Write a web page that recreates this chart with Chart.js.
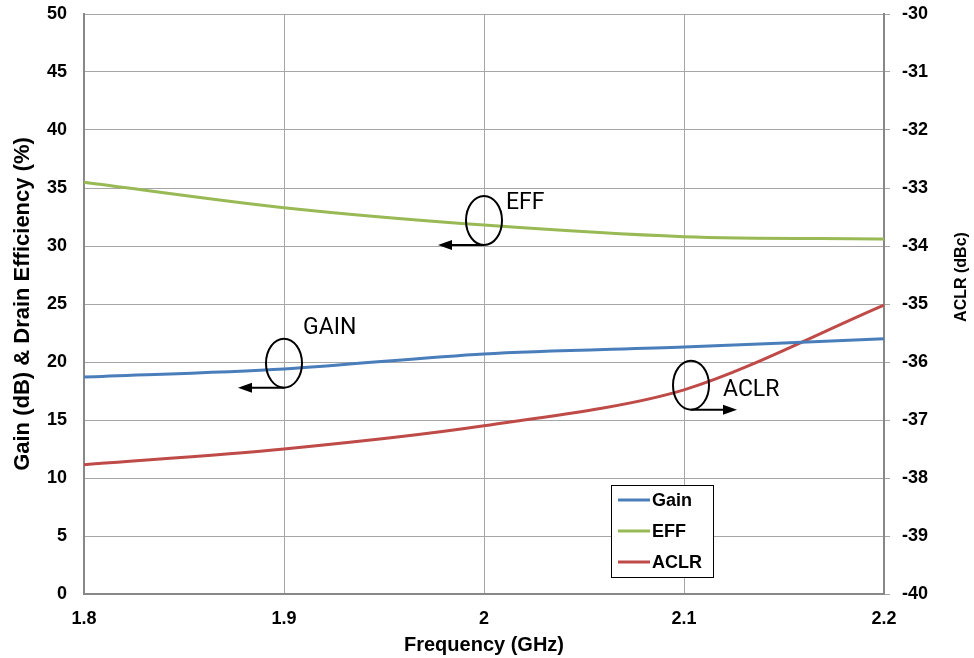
<!DOCTYPE html>
<html>
<head>
<meta charset="utf-8">
<script src="https://cdn.jsdelivr.net/npm/chart.js@4/dist/chart.umd.min.js"></script>
<style>
  html, body { margin: 0; padding: 0; background: #fff; }
  #wrap { width: 974px; height: 658px; }
</style>
</head>
<body>
<div id="wrap"><canvas id="myChart"></canvas></div>
<script>
// values
const freqLabels = ['1.8', '1.9', '2', '2.1', '2.2'];
const gainValues = [18.7, 19.4, 20.7, 21.3, 22.0];
const effValues = [35.5, 33.3, 31.8, 30.8, 30.6];
const aclrValues = [-37.77, -37.5, -37.1, -36.48, -35.02];

// callouts: ellipse centre in data units (x index, left-axis value), arrow direction
const callouts = [
  { text: 'EFF', x: 2.0, y: 32.2, dir: -1 },
  { text: 'GAIN', x: 1.0, y: 19.9, dir: -1 },
  { text: 'ACLR', x: 3.035, y: 18.0, dir: 1 },
];

const font = 'Liberation Sans, Arial, sans-serif';

const data = {
  labels: freqLabels,
  datasets: [
    {
      label: 'Gain',
      data: gainValues,
      borderColor: '#4a7ebb',
      backgroundColor: '#4a7ebb',
      yAxisID: 'y',
    },
    {
      label: 'EFF',
      data: effValues,
      borderColor: '#98b954',
      backgroundColor: '#98b954',
      yAxisID: 'y',
    },
    {
      label: 'ACLR',
      data: aclrValues,
      borderColor: '#be4b48',
      backgroundColor: '#be4b48',
      yAxisID: 'y2',
    },
  ],
};

// ellipses, arrows, labels, the boxed legend and the right axis title
const extras = {
  id: 'extras',
  afterDraw(chart) {
    const ctx = chart.ctx;
    const xs = chart.scales.x;
    const ys = chart.scales.y;
    ctx.save();
    callouts.forEach((c) => {
      const cx = xs.getPixelForValue(c.x);
      const cy = ys.getPixelForValue(c.y);
      const rx = 18, ry = 24.5;
      ctx.strokeStyle = '#000';
      ctx.fillStyle = '#000';
      ctx.lineWidth = 2;
      ctx.beginPath();
      ctx.ellipse(cx, cy, rx, ry, 0, 0, Math.PI * 2);
      ctx.stroke();
      // arrow from the bottom of the ellipse
      const by = cy + ry;
      const ex = cx + c.dir * 46;
      ctx.beginPath();
      ctx.moveTo(cx, by);
      ctx.lineTo(ex - c.dir * 10, by);
      ctx.stroke();
      ctx.beginPath();
      ctx.moveTo(ex, by);
      ctx.lineTo(ex - c.dir * 14, by - 5);
      ctx.lineTo(ex - c.dir * 14, by + 5);
      ctx.closePath();
      ctx.fill();
      ctx.font = '23px Roboto, Arial, sans-serif';
      ctx.textBaseline = 'middle';
      ctx.textAlign = 'left';
      if (c.text === 'EFF') ctx.fillText(c.text, cx + 22, cy - 17);
      if (c.text === 'GAIN') ctx.fillText(c.text, cx + 19, cy - 35);
      if (c.text === 'ACLR') ctx.fillText(c.text, cx + 32, cy + 5);
    });

    // legend box
    const lx = 611, ly = 485, lw = 102, lh = 92;
    ctx.fillStyle = '#fff';
    ctx.fillRect(lx, ly, lw, lh);
    ctx.strokeStyle = '#000';
    ctx.lineWidth = 1;
    ctx.strokeRect(lx + 0.5, ly + 0.5, lw, lh);
    chart.data.datasets.forEach((ds, i) => {
      const yy = ly + 15 + i * 31;
      ctx.strokeStyle = ds.borderColor;
      ctx.lineWidth = 3;
      ctx.beginPath();
      ctx.moveTo(lx + 7, yy);
      ctx.lineTo(lx + 39, yy);
      ctx.stroke();
      ctx.fillStyle = '#000';
      ctx.font = 'bold 18px ' + font;
      ctx.textBaseline = 'middle';
      ctx.textAlign = 'left';
      ctx.fillText(ds.label, lx + 41, yy + 1);
    });

    // right axis title, reading bottom to top
    ctx.translate(962, 277);
    ctx.rotate(-Math.PI / 2);
    ctx.fillStyle = '#000';
    ctx.font = 'bold 16px ' + font;
    ctx.textAlign = 'center';
    ctx.textBaseline = 'middle';
    ctx.fillText('ACLR (dBc)', 0, 0);
    ctx.restore();
  },
};

const config = {
  type: 'line',
  data: data,
  options: {
    responsive: true,
    maintainAspectRatio: false,
    animation: false,
    layout: { padding: { top: 14, left: 0, right: 0, bottom: 0 } },
    elements: {
      line: { borderWidth: 3, tension: 0.3 },
      point: { radius: 0 },
    },
    plugins: {
      legend: { display: false },
      tooltip: { enabled: false },
    },
    scales: {
      x: {
        type: 'category',
        offset: false,
        grid: { color: '#a6a6a6', drawTicks: false },
        border: { color: '#888', width: 2 },
        ticks: {
          color: '#000',
          padding: 14,
          maxRotation: 0,
          font: { family: font, size: 18, weight: 'bold' },
        },
        title: {
          display: true,
          text: 'Frequency (GHz)',
          color: '#000',
          padding: { top: 1, bottom: 1 },
          font: { family: font, size: 20, weight: 'bold' },
        },
        afterFit: (scale) => {
          scale.height = 64;
          scale.paddingLeft = 0;
          scale.paddingRight = 0;
        },
      },
      y: {
        position: 'left',
        min: 0,
        max: 50,
        grid: { color: '#a6a6a6', drawTicks: false },
        border: { color: '#888', width: 2 },
        ticks: {
          stepSize: 5,
          color: '#000',
          padding: 17,
          font: { family: font, size: 18, weight: 'bold' },
        },
        title: {
          display: true,
          text: 'Gain (dB) & Drain Efficiency (%)',
          color: '#000',
          padding: { top: 10, bottom: 0 },
          font: { family: font, size: 22, weight: 'bold' },
        },
        afterFit: (scale) => {
          scale.width = 84;
          scale.paddingTop = 0;
          scale.paddingBottom = 0;
        },
      },
      y2: {
        position: 'right',
        min: -40,
        max: -30,
        grid: { drawOnChartArea: false, color: '#a6a6a6', tickLength: 6 },
        border: { color: '#888', width: 2 },
        ticks: {
          stepSize: 1,
          color: '#000',
          padding: 12,
          font: { family: font, size: 18, weight: 'bold' },
        },
        afterFit: (scale) => {
          scale.width = 90;
          scale.paddingTop = 0;
          scale.paddingBottom = 0;
        },
      },
    },
  },
  plugins: [extras],
};

const lineChart = new Chart(document.getElementById('myChart'), config);
</script>
</body>
</html>
